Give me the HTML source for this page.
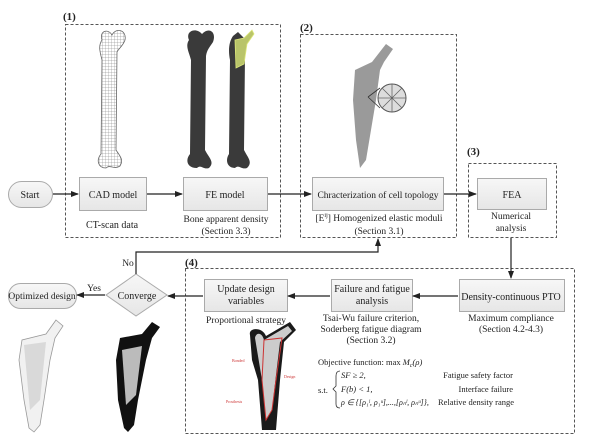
<!DOCTYPE html>
<html><head><meta charset="utf-8"><style>
html,body{margin:0;padding:0;background:#fff;}
svg{display:block;font-family:"Liberation Serif",serif;}
</style></head><body>
<svg width="600" height="447" viewBox="0 0 600 447" xmlns="http://www.w3.org/2000/svg">
<defs>
<marker id="ar" markerWidth="8" markerHeight="6" refX="7" refY="3" orient="auto" markerUnits="userSpaceOnUse"><path d="M0,0 L8,3 L0,6 z" fill="#222"/></marker>
<linearGradient id="bx" x1="0" y1="0" x2="0" y2="1"><stop offset="0" stop-color="#f7f7f7"/><stop offset="1" stop-color="#e6e6e6"/></linearGradient>
<pattern id="mesh" width="3" height="3" patternUnits="userSpaceOnUse"><rect width="3" height="3" fill="#fff"/><path d="M0,0 H3 M0,0 V3" stroke="#777" stroke-width="0.5"/></pattern>
</defs>
<g fill="none" stroke="#555" stroke-width="1" stroke-dasharray="3,2">
<rect x="65.5" y="24.5" width="215" height="213"/>
<rect x="300.5" y="34.5" width="156" height="203"/>
<rect x="468.5" y="163.5" width="88" height="74"/>
<rect x="185.5" y="268.5" width="389" height="165"/>
</g>
<g font-size="11" font-weight="bold" fill="#222">
<text x="63" y="20">(1)</text><text x="300" y="31">(2)</text><text x="467" y="155">(3)</text><text x="185" y="266">(4)</text>
</g>
<!-- bones -->
<path d="M102,40 C99,31 108,28 112,35 C116,27 127,30 125,40 C123,46 119,48 117,52 L116,150 C120,156 124,160 120,166 C114,170 110,164 106,168 C98,168 96,160 101,154 L102,60 C100,52 98,46 102,40 z" fill="url(#mesh)" stroke="#666" stroke-width="0.8"/>
<path d="M189,40 C185,31 196,27 202,34 C208,27 217,31 213,42 C209,48 207,50 206,56 L205,150 C209,158 215,162 209,168 C203,170 201,164 197,168 C187,168 185,160 190,154 L191,60 C189,52 185,46 189,40 z" fill="#3a3a3a"/>
<path d="M233,36 L238,32 L244,38 L252,30 L254,34 L247,44 L245,56 L244,150 C248,158 253,162 247,168 C241,170 239,164 235,168 C227,168 225,160 229,154 L230,60 C228,50 229,42 233,36 z" fill="#3a3a3a"/>
<path d="M235,40 L244,38 L252,30 L254,34 L247,44 L244,64 L236,68 z" fill="#b9c46a" stroke="#dde87a" stroke-width="0.8"/>
<!-- implant box 2 -->
<path d="M386,44 L393,49 L384,62 L380,70 L376,100 L366,160 L360,168 L356,140 L353,100 L355,70 L372,62 z" fill="#9a9a9a"/>
<circle cx="392" cy="98" r="14" fill="#ddd" stroke="#555" stroke-width="1"/>
<path d="M382,88 L402,108 M382,108 L402,88 M392,84 V112 M378,98 H406" stroke="#666" stroke-width="0.8"/>
<path d="M368,97 L380,88 M368,97 L380,108" stroke="#333" stroke-width="0.8"/>
<!-- flow boxes -->
<g stroke="#aaa" stroke-width="1" fill="url(#bx)">
<rect x="8.5" y="181.5" width="44" height="26" rx="13"/>
<rect x="79.5" y="177.5" width="67" height="33"/>
<rect x="183.5" y="177.5" width="84" height="33"/>
<rect x="312.5" y="177.5" width="131" height="33"/>
<rect x="477.5" y="178.5" width="69" height="31"/>
<rect x="459.5" y="279.5" width="105" height="32"/>
<rect x="331.5" y="279.5" width="81" height="32"/>
<rect x="204.5" y="279.5" width="83" height="32"/>
<rect x="8.5" y="283.5" width="68" height="25" rx="12"/>
<path d="M136,274 L167,295 L136,316 L106,295 z"/>
</g>
<g stroke="#222" stroke-width="1.2" fill="none" marker-end="url(#ar)">
<line x1="53" y1="194" x2="78" y2="194"/>
<line x1="147" y1="194" x2="182" y2="194"/>
<line x1="268" y1="194" x2="311" y2="194"/>
<line x1="444" y1="194" x2="476" y2="194"/>
<line x1="511" y1="238" x2="511" y2="278"/>
<line x1="458" y1="296" x2="413" y2="296"/>
<line x1="330" y1="296" x2="288" y2="296"/>
<line x1="203" y1="296" x2="168" y2="296"/>
<line x1="105" y1="295" x2="77" y2="295"/>
<polyline points="136,274 136,252 378,252 378,239"/>
</g>
<g font-size="10" fill="#222" text-anchor="middle">
<text x="30" y="198">Start</text>
<text x="113" y="198">CAD model</text>
<text x="225" y="198">FE model</text>
<text x="378" y="198" font-size="9.5">Chracterization of cell topology</text>
<text x="512" y="198">FEA</text>
<text x="511" y="300">Density-continuous PTO</text>
<text x="372" y="292">Failure and fatigue</text><text x="372" y="304">analysis</text>
<text x="246" y="292">Update design</text><text x="246" y="304">variables</text>
<text x="42" y="299" font-size="9.5">Optimized design</text>
<text x="137" y="299">Converge</text>
<text x="112" y="228">CT-scan data</text>
<text x="226" y="222" font-size="9.5">Bone apparent density</text><text x="226" y="234" font-size="9.5">(Section 3.3)</text>
<text x="379" y="221" font-size="9.5">[E<tspan font-size="6" dy="-4">ij</tspan><tspan dy="4">] Homogenized elastic moduli</tspan></text><text x="379" y="234" font-size="9.5">(Section 3.1)</text>
<text x="511" y="219" font-size="9.5">Numerical</text><text x="511" y="231" font-size="9.5">analysis</text>
<text x="511" y="321" font-size="9.5">Maximum compliance</text><text x="511" y="332" font-size="9.5">(Section 4.2-4.3)</text>
<text x="371" y="321" font-size="9.5">Tsai-Wu failure criterion,</text><text x="371" y="332" font-size="9.5">Soderberg fatigue diagram</text><text x="371" y="343" font-size="9.5">(Section 3.2)</text>
<text x="246" y="323" font-size="9.5">Proportional strategy</text>
<text x="128" y="266" font-size="9.5">No</text>
<text x="94" y="291" font-size="9.5">Yes</text>
</g>
<g font-size="8.5" fill="#222">
<text x="318" y="365">Objective function:   max <tspan font-style="italic">M<tspan font-size="6" dy="2">c</tspan><tspan dy="-2">(</tspan>ρ)</tspan></text>
<text x="318" y="393">s.t.</text>
<path d="M340,371 Q336,371 336,376 L336,386 L333,389 L336,392 L336,404 Q336,408 340,408" fill="none" stroke="#333" stroke-width="0.8"/>
<text x="341" y="378" font-style="italic">SF ≥ 2,</text>
<text x="513" y="378" text-anchor="end">Fatigue  safety factor</text>
<text x="341" y="392" font-style="italic">F(b) &lt; 1,</text>
<text x="513" y="392" text-anchor="end">Interface failure</text>
<text x="341" y="405" font-style="italic" font-size="8">ρ ∈ {[ρ₁ˡ, ρ₁ᵘ],...,[ρₙˡ, ρₙᵘ]},</text>
<text x="438" y="405">Relative density range</text>
</g>
<!-- bottom-left implants -->
<path d="M56,320 L63,326 L55,338 L50,360 L44,400 L40,425 L34,432 L29,428 L24,400 L19,360 L22,340 L46,334 z" fill="#f1f1f1" stroke="#999" stroke-width="0.8"/>
<path d="M24,345 L46,342 L40,400 L30,410 z" fill="#cfcfcf" opacity="0.7"/>
<path d="M152,322 L160,327 L152,338 L146,360 L138,400 L134,425 L128,432 L124,428 L118,400 L116,360 L120,338 L142,334 z" fill="#111"/>
<path d="M122,350 L142,346 L136,395 L126,405 z" fill="#bbb"/>
<!-- bone with red design domain -->
<path d="M250,335 C248,328 262,326 266,336 L290,322 L296,330 L284,342 L280,380 L276,430 L262,430 L258,380 L252,360 z" fill="#1a1a1a"/>
<path d="M255,338 C256,332 262,332 264,340 L288,326 L292,331 L280,342 L276,375 L272,410 L266,420 L262,380 z" fill="#ccc"/>
<path d="M264,340 L282,338 L276,380 L272,410 L266,420 L262,380 z" fill="none" stroke="#c33" stroke-width="1"/>
<g font-size="4" fill="#c33"><text x="232" y="362">Bonded</text><text x="284" y="378">Design</text><text x="226" y="403">Prosthesis</text></g>
</svg>
</body></html>
